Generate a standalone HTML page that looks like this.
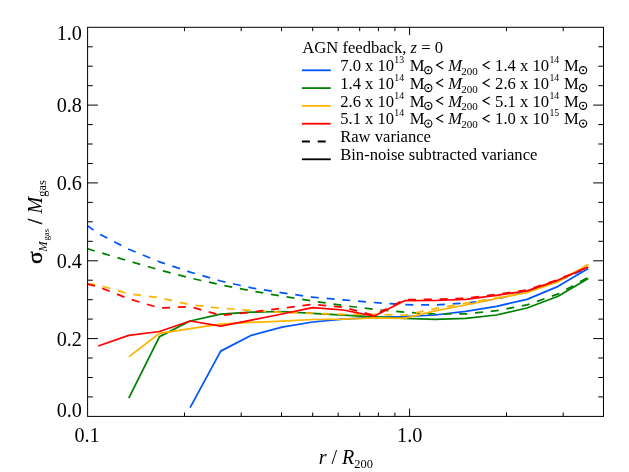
<!DOCTYPE html>
<html><head><meta charset="utf-8"><title>plot</title>
<style>html,body{margin:0;padding:0;background:#fff;}svg{display:block;will-change:transform;}text{font-family:"Liberation Serif",serif;fill:#000;}.i{font-style:italic;}</style>
</head><body>
<svg width="629" height="472" viewBox="0 0 629 472">
<rect width="629" height="472" fill="#fff"/>
<defs><clipPath id="c"><rect x="87.6" y="27.3" width="515.9" height="389.1"/></clipPath></defs>
<g clip-path="url(#c)" fill="none" stroke-linejoin="round" stroke-linecap="butt">
<path d="M87.1 225.5 L98.2 233.4 L128.8 249.3 L159.5 261.8 L190.1 272.1 L220.7 281.0 L251.4 287.9 L282.0 292.8 L312.6 297.2 L343.2 299.9 L373.9 302.5 L404.5 304.7 L435.1 304.9 L465.8 303.1 L496.4 299.2 L527.0 291.8 L557.6 281.3 L588.3 267.4" stroke="#0055ff" stroke-width="1.75" stroke-dasharray="8.0 7.8"/>
<path d="M190.1 407.6 L220.7 351.1 L251.4 335.3 L282.0 327.1 L312.6 322.0 L343.2 319.2 L373.9 317.4 L404.5 316.7 L435.1 315.0 L465.8 311.3 L496.4 306.3 L527.0 299.4 L557.6 286.6 L588.3 268.4" stroke="#0055ff" stroke-width="1.75"/>
<path d="M87.1 248.7 L98.2 252.0 L128.8 261.1 L159.5 269.9 L190.1 278.0 L220.7 284.8 L251.4 290.9 L282.0 296.2 L312.6 301.0 L343.2 305.5 L373.9 309.4 L404.5 312.2 L435.1 314.0 L465.8 313.9 L496.4 310.7 L527.0 304.9 L557.6 294.2 L588.3 277.3" stroke="#008000" stroke-width="1.75" stroke-dasharray="8.0 7.8"/>
<path d="M128.8 398.1 L159.5 336.6 L190.1 321.0 L220.7 314.1 L251.4 312.1 L282.0 311.5 L312.6 313.4 L343.2 315.2 L373.9 316.8 L404.5 318.3 L435.1 319.4 L465.8 318.4 L496.4 315.0 L527.0 308.0 L557.6 296.5 L588.3 278.5" stroke="#008000" stroke-width="1.75"/>
<path d="M87.1 283.5 L98.2 285.0 L128.8 293.8 L159.5 297.7 L190.1 304.7 L220.7 308.2 L251.4 310.5 L282.0 312.4 L312.6 313.4 L343.2 314.3 L373.9 314.4 L404.5 315.3 L435.1 308.6 L465.8 303.2 L496.4 297.9 L527.0 292.3 L557.6 281.8 L588.3 264.5" stroke="#ffb400" stroke-width="1.75" stroke-dasharray="8.0 7.8"/>
<path d="M128.8 356.9 L159.5 333.3 L190.1 328.7 L220.7 324.2 L251.4 322.4 L282.0 321.2 L312.6 319.5 L343.2 319.2 L373.9 317.8 L404.5 318.3 L435.1 310.9 L465.8 305.0 L496.4 298.6 L527.0 292.5 L557.6 282.0 L588.3 264.8" stroke="#ffb400" stroke-width="1.75"/>
<path d="M87.1 284.1 L98.2 286.7 L128.8 298.8 L159.5 308.0 L190.1 306.6 L220.7 315.4 L251.4 312.2 L282.0 308.2 L312.6 304.4 L343.2 307.2 L373.9 315.4 L404.5 299.6 L435.1 299.4 L465.8 298.3 L496.4 294.5 L527.0 290.0 L557.6 279.8 L588.3 266.8" stroke="#ff0000" stroke-width="1.75" stroke-dasharray="8.0 7.8"/>
<path d="M98.2 346.0 L128.8 335.3 L159.5 331.5 L190.1 321.0 L220.7 326.2 L251.4 320.1 L282.0 314.0 L312.6 307.7 L343.2 310.0 L373.9 316.2 L404.5 300.7 L435.1 300.5 L465.8 299.4 L496.4 295.4 L527.0 290.8 L557.6 280.3 L588.3 267.0" stroke="#ff0000" stroke-width="1.75"/>
</g>
<g stroke="#000" stroke-width="1" fill="none">
<rect x="87.6" y="27.3" width="515.9" height="389.1"/>
<path d="M87.6 396.9h5.2M603.5 396.9h-5.2M87.6 377.5h5.2M603.5 377.5h-5.2M87.6 358.0h5.2M603.5 358.0h-5.2M87.6 338.6h10.3M603.5 338.6h-10.3M87.6 319.1h5.2M603.5 319.1h-5.2M87.6 299.7h5.2M603.5 299.7h-5.2M87.6 280.2h5.2M603.5 280.2h-5.2M87.6 260.8h10.3M603.5 260.8h-10.3M87.6 241.3h5.2M603.5 241.3h-5.2M87.6 221.8h5.2M603.5 221.8h-5.2M87.6 202.4h5.2M603.5 202.4h-5.2M87.6 182.9h10.3M603.5 182.9h-10.3M87.6 163.5h5.2M603.5 163.5h-5.2M87.6 144.0h5.2M603.5 144.0h-5.2M87.6 124.6h5.2M603.5 124.6h-5.2M87.6 105.1h10.3M603.5 105.1h-10.3M87.6 85.7h5.2M603.5 85.7h-5.2M87.6 66.2h5.2M603.5 66.2h-5.2M87.6 46.8h5.2M603.5 46.8h-5.2M184.5 416.4v-3.9M184.5 27.3v3.9M241.2 416.4v-3.9M241.2 27.3v3.9M281.5 416.4v-3.9M281.5 27.3v3.9M312.7 416.4v-3.9M312.7 27.3v3.9M338.2 416.4v-3.9M338.2 27.3v3.9M359.7 416.4v-3.9M359.7 27.3v3.9M378.4 416.4v-3.9M378.4 27.3v3.9M394.9 416.4v-3.9M394.9 27.3v3.9M409.6 416.4v-7.8M409.6 27.3v7.8M506.5 416.4v-3.9M506.5 27.3v3.9M563.2 416.4v-3.9M563.2 27.3v3.9"/>
</g>
<g font-size="20.2">
<text x="81.9" y="416.7" text-anchor="end">0.0</text>
<text x="81.9" y="345.7" text-anchor="end">0.2</text>
<text x="81.9" y="267.9" text-anchor="end">0.4</text>
<text x="81.9" y="190.0" text-anchor="end">0.6</text>
<text x="81.9" y="112.2" text-anchor="end">0.8</text>
<text x="81.9" y="39.8" text-anchor="end">1.0</text>
<text x="87.1" y="441.7" text-anchor="middle">0.1</text>
<text x="409.7" y="441.7" text-anchor="middle">1.0</text>
</g>
<text x="318.7" y="463.5" font-size="20"><tspan class="i">r</tspan> / <tspan class="i">R</tspan><tspan font-size="12.4" dy="4.1">200</tspan></text>
<g transform="translate(42.3 264.2) rotate(-90)">
<text x="0" y="0" font-size="20" transform="translate(0.2 0) scale(1.17 1)" stroke="#000" stroke-width="0.45">σ</text>
<text x="12.4" y="4.3" font-size="12.4" class="i">M</text>
<text x="23.6" y="6.4" font-size="8.8">gas</text>
<text x="40.0" y="0" font-size="20" stroke="#000" stroke-width="0.4">/</text>
<text x="50.6" y="0" font-size="20" class="i">M</text>
<text x="67.5" y="3.9" font-size="12.4">gas</text>
</g>
<g fill="none" stroke-width="1.8">
<path d="M301.9 70.3H330.8" stroke="#0055ff"/>
<path d="M301.9 88.1H330.8" stroke="#008000"/>
<path d="M301.9 105.9H330.8" stroke="#ffb400"/>
<path d="M301.9 123.7H330.8" stroke="#ff0000"/>
<path d="M301.9 141.5H330.8" stroke="#000" stroke-dasharray="8.0 7.8"/>
<path d="M301.9 159.3H330.8" stroke="#000"/>
</g>
<g font-size="16.6">
<text x="302.3" y="53.2">AGN feedback, <tspan class="i">z</tspan> = 0</text>
<text x="340.2" y="70.9">7.0 x 10</text>
<text x="394.3" y="63.0" font-size="9.8">13</text>
<text x="409.7" y="70.9">M</text>
<circle cx="428.3" cy="70.2" r="3.6" fill="none" stroke="#000" stroke-width="1.1"/><circle cx="428.3" cy="70.2" r="1.05" fill="#000"/>
<path d="M443.2 61.3L436.6 65.1L443.2 68.9" fill="none" stroke="#000" stroke-width="1.15" stroke-linejoin="miter"/>
<text x="448.2" y="70.9" class="i">M</text>
<text x="461.2" y="74.7" font-size="11">200</text>
<path d="M489.7 61.3L483.1 65.1L489.7 68.9" fill="none" stroke="#000" stroke-width="1.15" stroke-linejoin="miter"/>
<text x="495.1" y="70.9">1.4 x 10</text>
<text x="549.4" y="63.0" font-size="9.8">14</text>
<text x="563.9" y="70.9">M</text>
<circle cx="583.1" cy="70.2" r="3.6" fill="none" stroke="#000" stroke-width="1.1"/><circle cx="583.1" cy="70.2" r="1.05" fill="#000"/>
<text x="340.2" y="88.7">1.4 x 10</text>
<text x="394.3" y="80.8" font-size="9.8">14</text>
<text x="409.7" y="88.7">M</text>
<circle cx="428.3" cy="88.0" r="3.6" fill="none" stroke="#000" stroke-width="1.1"/><circle cx="428.3" cy="88.0" r="1.05" fill="#000"/>
<path d="M443.2 79.1L436.6 82.9L443.2 86.7" fill="none" stroke="#000" stroke-width="1.15" stroke-linejoin="miter"/>
<text x="448.2" y="88.7" class="i">M</text>
<text x="461.2" y="92.5" font-size="11">200</text>
<path d="M489.7 79.1L483.1 82.9L489.7 86.7" fill="none" stroke="#000" stroke-width="1.15" stroke-linejoin="miter"/>
<text x="495.1" y="88.7">2.6 x 10</text>
<text x="549.4" y="80.8" font-size="9.8">14</text>
<text x="563.9" y="88.7">M</text>
<circle cx="583.1" cy="88.0" r="3.6" fill="none" stroke="#000" stroke-width="1.1"/><circle cx="583.1" cy="88.0" r="1.05" fill="#000"/>
<text x="340.2" y="106.5">2.6 x 10</text>
<text x="394.3" y="98.6" font-size="9.8">14</text>
<text x="409.7" y="106.5">M</text>
<circle cx="428.3" cy="105.8" r="3.6" fill="none" stroke="#000" stroke-width="1.1"/><circle cx="428.3" cy="105.8" r="1.05" fill="#000"/>
<path d="M443.2 96.9L436.6 100.7L443.2 104.5" fill="none" stroke="#000" stroke-width="1.15" stroke-linejoin="miter"/>
<text x="448.2" y="106.5" class="i">M</text>
<text x="461.2" y="110.3" font-size="11">200</text>
<path d="M489.7 96.9L483.1 100.7L489.7 104.5" fill="none" stroke="#000" stroke-width="1.15" stroke-linejoin="miter"/>
<text x="495.1" y="106.5">5.1 x 10</text>
<text x="549.4" y="98.6" font-size="9.8">14</text>
<text x="563.9" y="106.5">M</text>
<circle cx="583.1" cy="105.8" r="3.6" fill="none" stroke="#000" stroke-width="1.1"/><circle cx="583.1" cy="105.8" r="1.05" fill="#000"/>
<text x="340.2" y="124.3">5.1 x 10</text>
<text x="394.3" y="116.4" font-size="9.8">14</text>
<text x="409.7" y="124.3">M</text>
<circle cx="428.3" cy="123.6" r="3.6" fill="none" stroke="#000" stroke-width="1.1"/><circle cx="428.3" cy="123.6" r="1.05" fill="#000"/>
<path d="M443.2 114.7L436.6 118.5L443.2 122.3" fill="none" stroke="#000" stroke-width="1.15" stroke-linejoin="miter"/>
<text x="448.2" y="124.3" class="i">M</text>
<text x="461.2" y="128.1" font-size="11">200</text>
<path d="M489.7 114.7L483.1 118.5L489.7 122.3" fill="none" stroke="#000" stroke-width="1.15" stroke-linejoin="miter"/>
<text x="495.1" y="124.3">1.0 x 10</text>
<text x="549.4" y="116.4" font-size="9.8">15</text>
<text x="563.9" y="124.3">M</text>
<circle cx="583.1" cy="123.6" r="3.6" fill="none" stroke="#000" stroke-width="1.1"/><circle cx="583.1" cy="123.6" r="1.05" fill="#000"/>
<text x="340.2" y="142.1">Raw variance</text>
<text x="340.2" y="159.9">Bin-noise subtracted variance</text>
</g>
</svg>
</body></html>
